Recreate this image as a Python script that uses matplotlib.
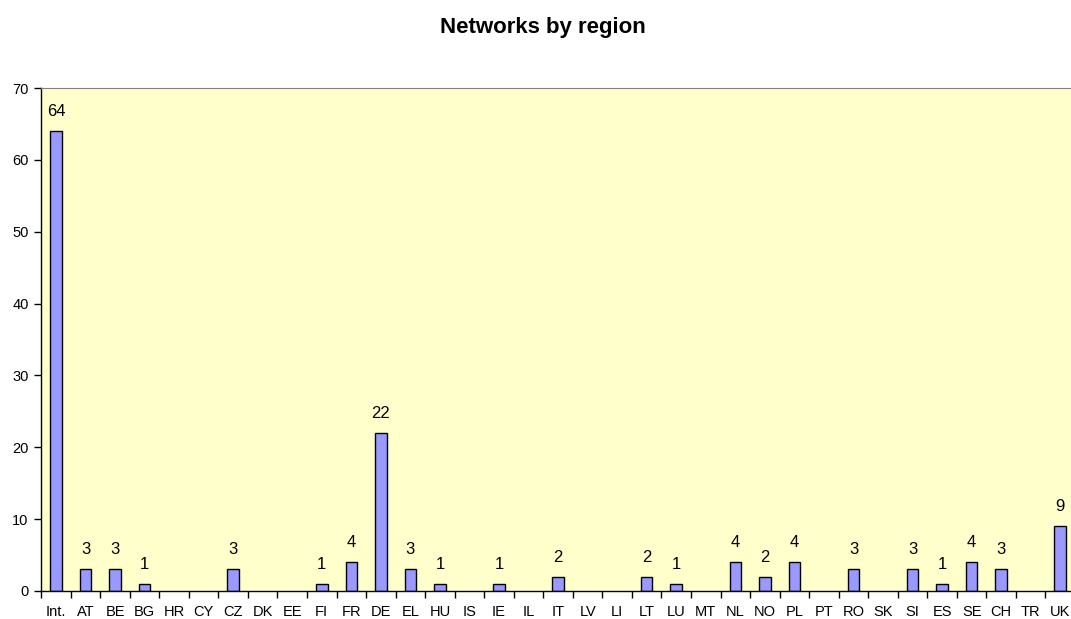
import matplotlib
matplotlib.use("Agg")
import matplotlib.pyplot as plt
import numpy as np

plt.rcParams['font.family'] = ['Liberation Sans', 'DejaVu Sans']

categories = ["Int.", "AT", "BE", "BG", "HR", "CY", "CZ", "DK", "EE", "FI", "FR", "DE",
              "EL", "HU", "IS", "IE", "IL", "IT", "LV", "LI", "LT", "LU", "MT", "NL",
              "NO", "PL", "PT", "RO", "SK", "SI", "ES", "SE", "CH", "TR", "UK"]
values = [64, 3, 3, 1, 0, 0, 3, 0, 0, 1, 4, 22, 3, 1, 0, 1, 0, 2, 0, 0, 2, 1, 0, 4,
          2, 4, 0, 3, 0, 3, 1, 4, 3, 0, 9]
title = "Networks by region"

W, H = 1071, 619
fig = plt.figure(figsize=(W / 100, H / 100), dpi=100)
left, right, top, bottom = 41.2, 1075, 88, 591
ax = fig.add_axes([left / W, 1 - bottom / H, (right - left) / W, (bottom - top) / H])
ax.set_facecolor('#FFFFCC')

x = np.arange(len(categories))
bars = ax.bar(x, values, width=0.39, color='#9999FF', edgecolor='black', linewidth=1.0, zorder=2)
for b, v in zip(bars, values):
    if v == 0:
        b.set_visible(False)
for xi, v in zip(x, values):
    if v > 0:
        ax.annotate(str(v), (xi, v), xytext=(0, 14), textcoords='offset points',
                    ha='center', va='center', fontsize=12)

ax.set_xlim(-0.5, len(categories) - 0.5)
ax.set_ylim(0, 70)
ax.set_yticks(range(0, 71, 10))
ax.tick_params(axis='y', labelsize=10.5, direction='out', length=5, width=1, pad=4)

ax.set_xticks(x)
ax.set_xticklabels(categories, fontsize=10.5)
ax.tick_params(axis='x', which='major', length=0, pad=10)
ax.set_xticks(np.arange(-0.5, len(categories)), minor=True)
ax.tick_params(axis='x', which='minor', direction='out', length=5, width=1)

ax.spines['top'].set_color('#808080')
ax.spines['right'].set_color('#808080')
ax.spines['left'].set_linewidth(1)
ax.spines['bottom'].set_linewidth(1)

fig.text(543 / W, 1 - 33 / H, title, ha='center', va='baseline', fontsize=16, fontweight='bold')

fig.savefig('out.png', dpi=100)
